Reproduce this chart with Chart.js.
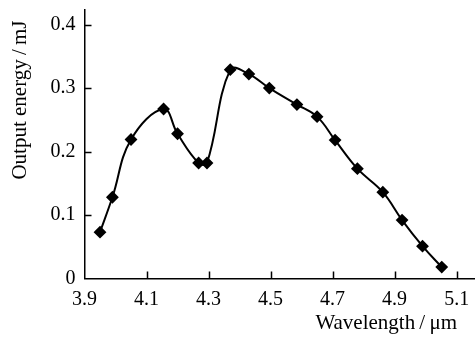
<!DOCTYPE html>
<html>
<head>
<meta charset="utf-8">
<script src="https://cdn.jsdelivr.net/npm/chart.js@4/dist/chart.umd.min.js"></script>
<style>
  html, body { margin: 0; padding: 0; background: #fff; }
  #wrap { width: 475px; height: 338px; }
</style>
</head>
<body>
<div id="wrap"><canvas id="c" width="475" height="338"></canvas></div>
<script>
const wavelength = [3.95, 3.99, 4.05, 4.155, 4.20, 4.268, 4.295, 4.37, 4.43, 4.496, 4.585, 4.65, 4.708, 4.78, 4.862, 4.924, 4.99, 5.052];
const energy = [0.073, 0.128, 0.219, 0.267, 0.228, 0.182, 0.182, 0.329, 0.322, 0.300, 0.274, 0.255, 0.218, 0.173, 0.136, 0.092, 0.051, 0.018];
const xTicks = [3.9, 4.1, 4.3, 4.5, 4.7, 4.9, 5.1];
const yTicks = [0, 0.1, 0.2, 0.3, 0.4];
const xTitle = 'Wavelength\u2009/\u2009μm';
const yTitle = 'Output energy\u2009/\u2009mJ';

const FONT = "'Liberation Serif', 'Times New Roman', serif";

const inwardTicks = {
  id: 'inwardTicks',
  afterDraw(chart) {
    const ctx = chart.ctx;
    const xs = chart.scales.x, ys = chart.scales.y;
    const area = chart.chartArea;
    ctx.save();
    ctx.strokeStyle = '#000';
    ctx.lineWidth = 1.5;
    ctx.beginPath();
    xTicks.forEach(v => {
      if (v === xTicks[0]) return;
      const px = Math.round(xs.getPixelForValue(v)) + 0.5;
      ctx.moveTo(px, area.bottom);
      ctx.lineTo(px, area.bottom - 7);
    });
    yTicks.forEach(v => {
      if (v === 0) return;
      const py = Math.round(ys.getPixelForValue(v)) + 0.5;
      ctx.moveTo(area.left, py);
      ctx.lineTo(area.left + 7, py);
    });
    ctx.stroke();
    // axis titles
    ctx.fillStyle = '#000';
    ctx.font = "21px " + FONT;
    ctx.textAlign = 'right';
    ctx.textBaseline = 'alphabetic';
    ctx.fillText(xTitle, 457, 329);
    ctx.translate(26, 100);
    ctx.rotate(-Math.PI / 2);
    ctx.textAlign = 'center';
    ctx.fillText(yTitle, 0, 0);
    ctx.restore();
  }
};

new Chart(document.getElementById('c'), {
  type: 'line',
  data: {
    datasets: [{
      data: wavelength.map((x, i) => ({ x: x, y: energy[i] })),
      borderColor: '#000',
      backgroundColor: '#000',
      borderWidth: 2,
      tension: 0.4,
      pointStyle: 'rectRot',
      pointRadius: 5,
      pointHoverRadius: 5,
      fill: false,
      clip: false
    }]
  },
  options: {
    responsive: false,
    animation: false,
    events: [],
    layout: { autoPadding: false, padding: { top: 10, right: 1, left: 0, bottom: 0 } },
    plugins: { legend: { display: false }, tooltip: { enabled: false } },
    scales: {
      x: {
        type: 'linear',
        min: 3.9,
        max: 5.156,
        afterBuildTicks: s => { s.ticks = xTicks.map(v => ({ value: v })); },
        afterFit: s => { s.height = 59.5; s.paddingLeft = 0; s.paddingRight = 0; },
        grid: { display: true, drawOnChartArea: false, drawTicks: false },
        border: { display: true, color: '#000', width: 1.5 },
        ticks: {
          padding: 9,
          color: '#000',
          font: { family: FONT, size: 20 },
          maxRotation: 0,
          autoSkip: false,
          callback: v => v.toFixed(1)
        }
      },
      y: {
        type: 'linear',
        min: 0,
        max: 0.423,
        afterBuildTicks: s => { s.ticks = yTicks.map(v => ({ value: v })); },
        afterFit: s => { s.width = 84.5; s.paddingTop = 0; s.paddingBottom = 0; },
        grid: { display: true, drawOnChartArea: false, drawTicks: false },
        border: { display: true, color: '#000', width: 1.5 },
        ticks: {
          padding: 9,
          color: '#000',
          font: { family: FONT, size: 20 },
          autoSkip: false,
          callback: v => (v === 0 ? '0' : v.toFixed(1))
        }
      }
    }
  },
  plugins: [inwardTicks]
});
</script>
</body>
</html>
